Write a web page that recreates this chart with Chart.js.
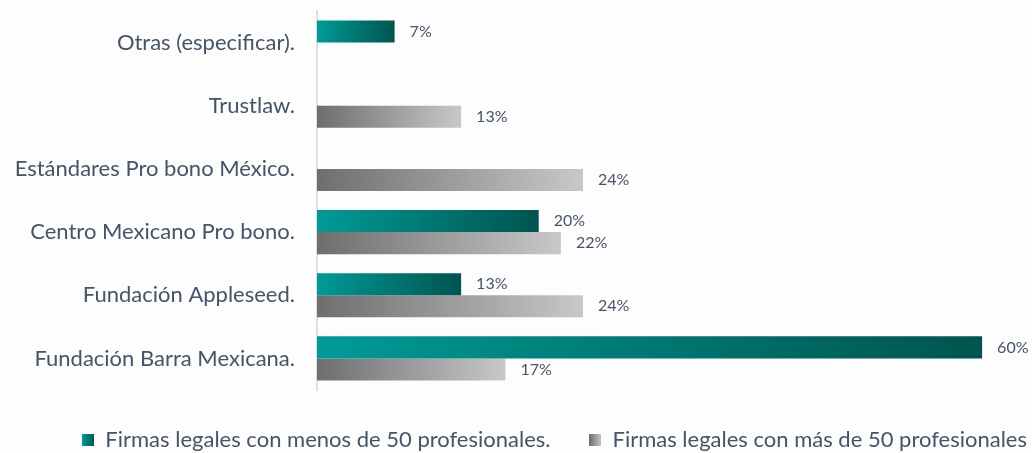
<!DOCTYPE html>
<html>
<head>
<meta charset="utf-8">
<script src="https://cdn.jsdelivr.net/npm/chart.js@4.4.1/dist/chart.umd.min.js"></script>
<style>
  html, body { margin: 0; padding: 0; background: #fdfdfd; }
  #wrap { width: 1032px; height: 453px; position: relative; }
</style>
</head>
<body>
<div id="wrap"><canvas id="chart"></canvas></div>
<script>
// Data
const categories = [
  'Otras (especificar).',
  'Trustlaw.',
  'Estándares Pro bono México.',
  'Centro Mexicano Pro bono.',
  'Fundación Appleseed.',
  'Fundación Barra Mexicana.'
];
const menos50 = [7, null, null, 20, 13, 60];
const mas50 = [null, 13, 24, 22, 24, 17];
const seriesNames = [
  'Firmas legales con menos de 50 profesionales.',
  'Firmas legales con más de 50 profesionales'
];

const TEXT = '#44546A';
const FONT = 'Lato';
const TEAL = ['#009b97', '#00544f'];
const GREY = ['#6e6e6e', '#c8c8c8'];

// horizontal gradient along each bar, from 0 to its value
function barGradient(stops) {
  return (ctx) => {
    const chart = ctx.chart;
    if (!chart.chartArea || ctx.raw == null) return stops[0];
    const x = chart.scales.x;
    const x0 = x.getPixelForValue(0);
    const x1 = x.getPixelForValue(ctx.raw);
    const g = chart.ctx.createLinearGradient(x0, 0, x1, 0);
    g.addColorStop(0, stops[0]);
    g.addColorStop(1, stops[1]);
    return g;
  };
}

// little gradient squares for the legend
function legendSwatch(stops) {
  const c = document.createElement('canvas');
  c.width = 12; c.height = 12;
  const cx = c.getContext('2d');
  const g = cx.createLinearGradient(0, 0, 12, 0);
  g.addColorStop(0, stops[0]);
  g.addColorStop(1, stops[1]);
  cx.fillStyle = g;
  cx.fillRect(0, 0, 12, 12);
  return c;
}
const swatches = [legendSwatch(TEAL), legendSwatch(GREY)];

// value labels at the end of each bar
const valueLabels = {
  id: 'valueLabels',
  afterDatasetsDraw(chart) {
    const ctx = chart.ctx;
    ctx.save();
    ctx.font = '16px ' + FONT;
    ctx.fillStyle = TEXT;
    ctx.textAlign = 'left';
    ctx.textBaseline = 'middle';
    chart.data.datasets.forEach((ds, di) => {
      const meta = chart.getDatasetMeta(di);
      meta.data.forEach((bar, i) => {
        const v = ds.data[i];
        if (v == null) return;
        ctx.fillText(v + '%', bar.x + 15, bar.y);
      });
    });
    ctx.restore();
  }
};

new Chart(document.getElementById('chart'), {
  type: 'bar',
  data: {
    labels: categories,
    datasets: [
      { label: seriesNames[0], data: menos50, backgroundColor: barGradient(TEAL) },
      { label: seriesNames[1], data: mas50, backgroundColor: barGradient(GREY) }
    ]
  },
  options: {
    indexAxis: 'y',
    responsive: true,
    maintainAspectRatio: false,
    animation: false,
    layout: { padding: { top: 11, right: -34, bottom: -8, left: 0 } },
    datasets: { bar: { categoryPercentage: 0.7, barPercentage: 1.0 } },
    scales: {
      x: { display: false, min: 0, max: 64.5 },
      y: {
        afterFit: (s) => { s.width = 317; s.paddingTop = 0; s.paddingBottom = 0; },
        grid: { display: false, drawTicks: false },
        border: { display: true, color: '#dcdfe8', width: 2 },
        ticks: { color: TEXT, font: { family: FONT, size: 22 }, padding: 22 }
      }
    },
    plugins: {
      tooltip: { enabled: false },
      legend: {
        position: 'bottom',
        align: 'end',
        labels: {
          color: TEXT,
          font: { family: FONT, size: 22 },
          usePointStyle: true,
          boxWidth: 12,
          boxHeight: 12,
          padding: 39,
          generateLabels: (chart) => chart.data.datasets.map((ds, i) => ({
            text: ds.label,
            pointStyle: swatches[i],
            fillStyle: 'transparent',
            strokeStyle: 'transparent',
            lineWidth: 0,
            fontColor: TEXT,
            datasetIndex: i,
            hidden: false
          }))
        }
      }
    }
  },
  plugins: [valueLabels]
});
</script>
</body>
</html>
